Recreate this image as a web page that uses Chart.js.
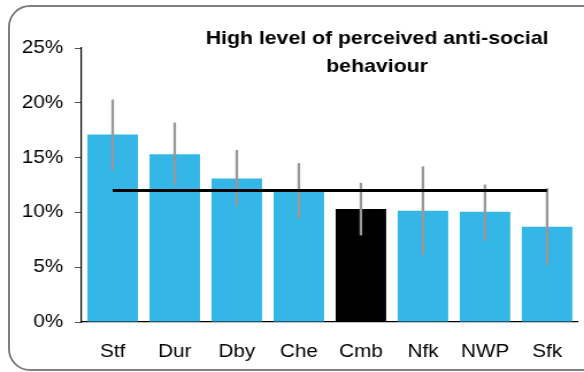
<!DOCTYPE html>
<html>
<head>
<meta charset="utf-8">
<script src="https://cdn.jsdelivr.net/npm/chart.js@4"></script>
<style>
  body { margin: 0; background: #fff; overflow: hidden; }
  #frame {
    position: absolute; left: 8px; top: 5px; width: 600px; height: 362px;
    border: 2px solid #7f7f7f; border-radius: 22px;
  }
  /* the source picture is stretched sideways, so the chart is too */
  #wrap {
    position: absolute; left: 0; top: 0; width: 508px; height: 372px;
    transform: scaleX(1.1496); transform-origin: 0 0;
  }
</style>
</head>
<body>
<div id="frame"></div>
<div id="wrap"><canvas id="asbChart"></canvas></div>
<script>
// ---------- data ----------
const areas = ["Stf", "Dur", "Dby", "Che", "Cmb", "Nfk", "NWP", "Sfk"];
const perceivedASB = [17.1, 15.3, 13.1, 12.0, 10.3, 10.15, 10.05, 8.7];
const ciLow = [13.8, 12.5, 10.6, 9.4, 7.9, 6.1, 7.4, 5.2];
const ciHigh = [20.3, 18.2, 15.7, 14.5, 12.7, 14.2, 12.55, 12.2];
const average = [12, 12, 12, 12, 12, 12, 12, 12];
const yTicks = [0, 5, 10, 15, 20, 25];
const titleLines = ["High level of perceived anti-social", "behaviour"];

const BLUE = "#34b7e7";
const FONT = "'Liberation Sans', Arial, sans-serif";

// error bars, drawn after the bars but under the average line
const errorBars = {
  id: "errorBars",
  afterDatasetDraw(chart, args) {
    if (args.index !== 0) return;
    const { ctx } = chart;
    const x = chart.scales.x, y = chart.scales.y;
    ctx.save();
    ctx.strokeStyle = "#989898";
    ctx.lineWidth = 2.3;
    areas.forEach((a, i) => {
      const px = x.getPixelForValue(i);
      ctx.beginPath();
      ctx.moveTo(px, y.getPixelForValue(ciHigh[i]));
      ctx.lineTo(px, y.getPixelForValue(ciLow[i]));
      ctx.stroke();
    });
    ctx.restore();
  }
};

// title sits inside the plot, right of centre
const insideTitle = {
  id: "insideTitle",
  afterDraw(chart) {
    const { ctx } = chart;
    ctx.save();
    ctx.fillStyle = "#000";
    ctx.font = "bold 18.5px " + FONT;
    ctx.textAlign = "center";
    ctx.textBaseline = "alphabetic";
    ctx.fillText(titleLines[0], 328, 43.5);
    ctx.fillText(titleLines[1], 328, 71.5);
    ctx.restore();
  }
};

new Chart(document.getElementById("asbChart"), {
  data: {
    labels: areas,
    datasets: [
      {
        type: "bar",
        data: perceivedASB,
        backgroundColor: ctx => areas[ctx.dataIndex] === "Cmb" ? "#000000" : BLUE,
        barPercentage: 0.814,
        categoryPercentage: 1,
        order: 1
      },
      {
        type: "line",
        data: average,
        borderColor: "#000",
        borderWidth: 3,
        pointRadius: 0,
        fill: false,
        order: 0
      }
    ]
  },
  plugins: [errorBars, insideTitle],
  options: {
    responsive: true,
    maintainAspectRatio: false,
    animation: false,
    layout: { padding: { top: 48, right: 1, left: 0, bottom: 0 } },
    plugins: {
      legend: { display: false },
      tooltip: { enabled: false },
      title: { display: false }
    },
    scales: {
      x: {
        grid: { display: false, drawTicks: false },
        border: { color: "#000", width: 1.2 },
        ticks: { color: "#000", font: { family: FONT, size: 18 }, padding: 19 },
        afterFit: s => { s.height = 50; }
      },
      y: {
        min: 0,
        max: 25,
        afterBuildTicks: s => { s.ticks = yTicks.map(v => ({ value: v })); },
        grid: { drawOnChartArea: false, tickLength: 6, color: "#555" },
        border: { color: "#000", width: 1.2 },
        ticks: {
          color: "#000",
          font: { family: FONT, size: 18 },
          padding: 10,
          callback: v => v + "%"
        },
        afterFit: s => { s.width = 71; }
      }
    }
  }
});
</script>
</body>
</html>
